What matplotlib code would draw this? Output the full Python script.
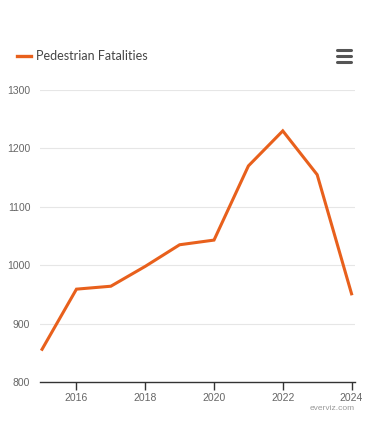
import matplotlib.pyplot as plt

years = [2015, 2016, 2017, 2018, 2019, 2020, 2021, 2022, 2023, 2024]
fatalities = [856, 959, 964, 998, 1035, 1043, 1170, 1230, 1155, 951]
yticks = [800, 900, 1000, 1100, 1200, 1300]
xticks = [2016, 2018, 2020, 2022, 2024]
series_name = "Pedestrian Fatalities"

W, H = 370, 444
fig = plt.figure(figsize=(W / 100, H / 100), dpi=100)
ax = fig.add_axes([40 / W, 1 - 382 / H, 315 / W, 292 / H])

line_color = "#e8601c"
ax.plot(years, fatalities, color=line_color, lw=2.2, solid_joinstyle="miter")

ax.set_xlim(2014.94, 2024.1)
ax.set_ylim(800, 1300)
ax.set_yticks(yticks)
ax.set_xticks(xticks)
ax.set_yticklabels([str(v) for v in yticks], fontsize=7.5, color="#666666",
                   family="Liberation Sans")
ax.set_xticklabels([str(v) for v in xticks], fontsize=7.5, color="#666666",
                   family="Liberation Sans")
ax.tick_params(axis="y", length=0, pad=7)
ax.tick_params(axis="x", length=6, width=1, color="#333333", pad=2)

ax.grid(axis="y", color="#e6e6e6", lw=0.8)
for g in ax.get_ygridlines()[:1]:
    g.set_visible(False)
for s in ["top", "right", "left"]:
    ax.spines[s].set_visible(False)
ax.spines["bottom"].set_color("#333333")
ax.spines["bottom"].set_linewidth(1)
ax.set_axisbelow(True)

# legend-like header
fig.add_artist(plt.Line2D([17 / W, 31 / W], [1 - 56 / H] * 2, color=line_color, lw=2.4,
                          transform=fig.transFigure))
fig.text(36 / W, 1 - 56 / H, series_name, fontsize=9, color="#444444",
         va="center", ha="left", family="Lato")

# menu icon
for dy in (50, 56, 62):
    fig.add_artist(plt.Line2D([337 / W, 351 / W], [1 - dy / H] * 2, color="#555555",
                              lw=2.2, solid_capstyle="round", transform=fig.transFigure))

fig.text(355 / W, 1 - 408 / H, "everviz.com", fontsize=6, color="#999999",
         ha="right", va="center", family="Liberation Sans")

fig.savefig("out.png", dpi=100, facecolor="white")
